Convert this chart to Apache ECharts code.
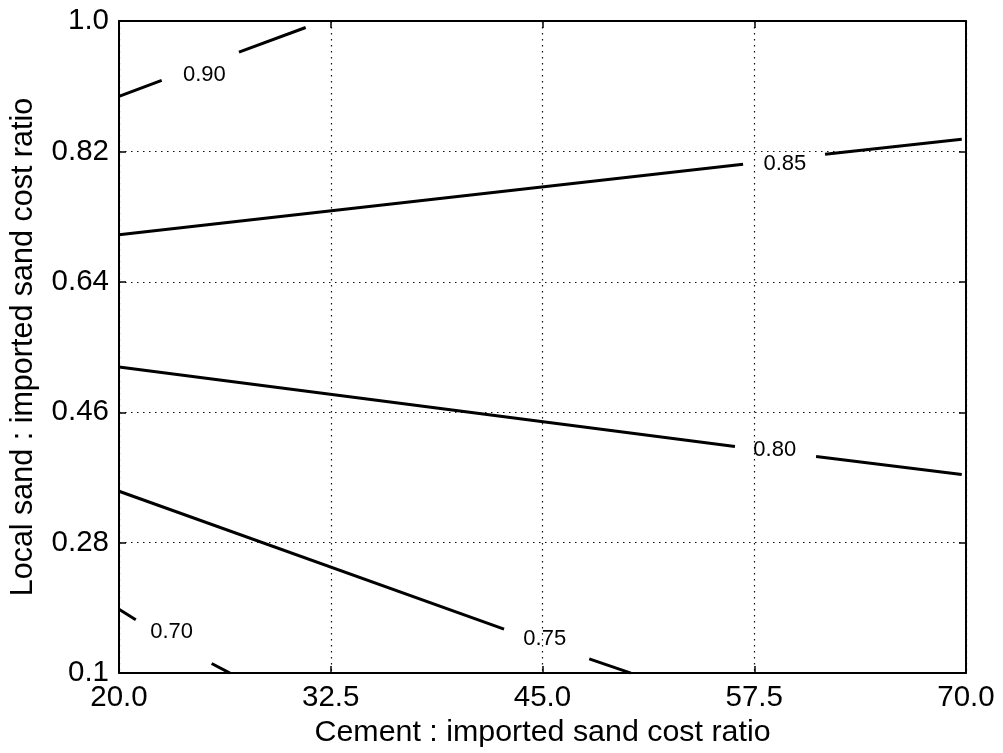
<!DOCTYPE html>
<html>
<head>
<meta charset="utf-8">
<title>Relative cost contours</title>
<script src="https://cdn.jsdelivr.net/npm/echarts@6/dist/echarts.min.js"></script>
<style>
  html, body { margin: 0; padding: 0; background: #ffffff; }
  #chart { width: 1003px; height: 753px; }
</style>
</head>
<body>
<div id="chart"></div>
<script>
// Axis ranges and tick labels
const xTickValues = [20, 32.5, 45, 57.5, 70];
const xTickLabels = ['20.0', '32.5', '45.0', '57.5', '70.0'];
const yTickValues = [0.1, 0.28, 0.46, 0.64, 0.82, 1.0];
const yTickLabels = ['0.1', '0.28', '0.46', '0.64', '0.82', '1.0'];

// Contour levels (labels drawn on each line)
const contourLevels = ['0.70', '0.75', '0.80', '0.85', '0.90'];

// Each contour: [start, end of first piece, start of second piece, end]
// (the pieces leave room for the level label)
const contour070 = [[20, 0.188], [20.99, 0.1737], [25.47, 0.1133], [26.55, 0.1]];
const contour075 = [[20, 0.351], [42.73, 0.1608], [47.76, 0.1196], [50.22, 0.1]];
const contour080 = [[20, 0.5226], [56.36, 0.4128], [61.15, 0.399], [69.75, 0.374]];
const contour085 = [[20, 0.705], [56.84, 0.8024], [61.68, 0.8162], [69.75, 0.8367]];
const contour090 = [[20, 0.896], [22.52, 0.918], [27.08, 0.957], [31.02, 0.991]];

// Label anchor positions for each level
const labelX = [23.11, 45.13, 58.71, 59.31, 25.04];
const labelY = [0.159, 0.149, 0.410, 0.805, 0.928];

const contours = [contour070, contour075, contour080, contour085, contour090];

const FONT = 'Liberation Sans';

function tickLabel(values, labels) {
  return function (v) {
    let best = 0;
    for (let i = 1; i < values.length; i++) {
      if (Math.abs(values[i] - v) < Math.abs(values[best] - v)) best = i;
    }
    return labels[best];
  };
}

const axisLineStyle = { show: true, lineStyle: { color: '#000', width: 2 } };
const tickStyle = { show: true, inside: true, length: 7, lineStyle: { color: '#000', width: 1.5 } };
const gridDots = { show: true, lineStyle: { color: '#111', width: 1.2, type: [1.5, 4.5] } };

const series = [];
contours.forEach(function (pts) {
  [pts.slice(0, 2), pts.slice(2, 4)].forEach(function (piece) {
    series.push({
      type: 'line',
      data: piece,
      showSymbol: false,
      symbol: 'none',
      silent: true,
      animation: false,
      lineStyle: { color: '#000', width: 3, cap: 'butt' },
      z: 3
    });
  });
});

// Level labels, centred on their anchors
series.push({
  type: 'scatter',
  data: labelX.map(function (x, i) { return [x, labelY[i], contourLevels[i]]; }),
  symbolSize: 2,
  itemStyle: { color: 'rgba(0,0,0,0)', opacity: 1 },
  silent: true,
  animation: false,
  label: {
    show: true,
    position: 'inside',
    offset: [0, 1.5],
    formatter: function (p) { return p.data[2]; },
    color: '#000',
    opacity: 1,
    textBorderWidth: 0,
    fontSize: 22,
    fontFamily: FONT
  },
  z: 4
});

const chart = echarts.init(document.getElementById('chart'), null, { renderer: 'canvas' });
chart.setOption({
  backgroundColor: '#ffffff',
  animation: false,
  grid: { left: 119, right: 37, top: 21, bottom: 76 },
  xAxis: [
    {
      type: 'value',
      position: 'bottom',
      min: 20, max: 70, interval: 12.5,
      axisLine: axisLineStyle,
      axisTick: tickStyle,
      splitLine: gridDots,
      axisLabel: {
        color: '#000', fontSize: 29.5, fontFamily: FONT, margin: 10,
        formatter: tickLabel(xTickValues, xTickLabels)
      },
      name: 'Cement : imported sand cost ratio',
      nameLocation: 'middle',
      nameGap: 39,
      nameTextStyle: { color: '#000', fontSize: 30.4, fontFamily: FONT }
    },
    {
      type: 'value',
      position: 'top',
      min: 20, max: 70, interval: 12.5,
      axisLine: axisLineStyle,
      axisTick: tickStyle,
      splitLine: { show: false },
      axisLabel: { show: false }
    }
  ],
  yAxis: [
    {
      type: 'value',
      position: 'left',
      min: 0.1, max: 1.0, interval: 0.18,
      axisLine: axisLineStyle,
      axisTick: tickStyle,
      splitLine: gridDots,
      axisLabel: {
        color: '#000', fontSize: 29.5, fontFamily: FONT, margin: 10,
        formatter: tickLabel(yTickValues, yTickLabels)
      },
      name: 'Local sand : imported sand cost ratio',
      nameLocation: 'middle',
      nameGap: 80,
      nameRotate: 90,
      nameTextStyle: { color: '#000', fontSize: 30.5, fontFamily: FONT }
    },
    {
      type: 'value',
      position: 'right',
      min: 0.1, max: 1.0, interval: 0.18,
      axisLine: axisLineStyle,
      axisTick: tickStyle,
      splitLine: { show: false },
      axisLabel: { show: false }
    }
  ],
  series: series
});
</script>
</body>
</html>
